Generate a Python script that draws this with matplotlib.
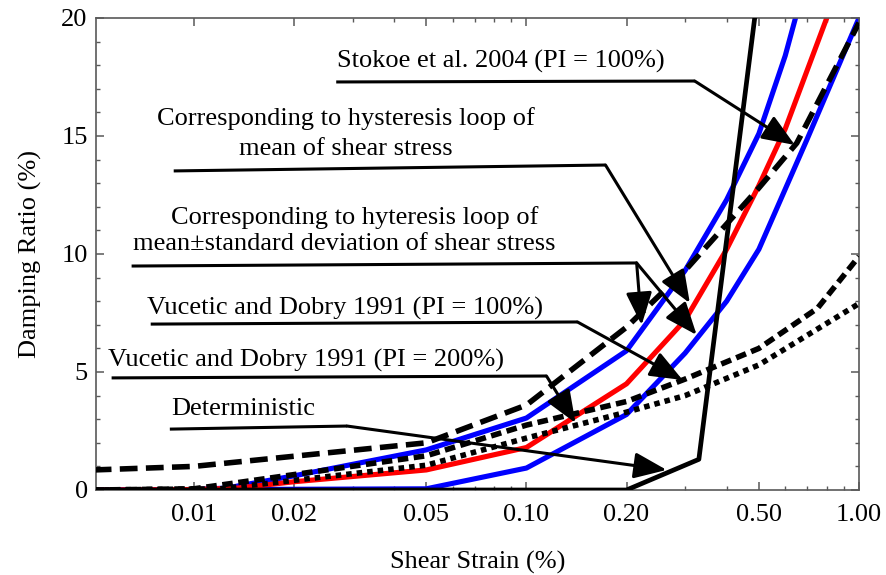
import matplotlib
matplotlib.use("Agg")
import matplotlib.pyplot as plt

plt.rcParams['font.family'] = ['Liberation Serif', 'DejaVu Serif']

# ---- data (shear strain %, damping ratio %) ----
det_x = [0.005, 0.2, 0.33, 0.5]
det_y = [0.0, 0.0, 1.3, 21.4]

mean_x = [0.005, 0.01, 0.0135, 0.02, 0.05, 0.1, 0.2, 0.3, 0.4, 0.5, 0.6, 0.8]
mean_y = [0.0, 0.02, 0.08, 0.35, 0.85, 1.8, 4.5, 7.2, 10.2, 12.9, 15.3, 20.0]

upper_x = [0.005, 0.01, 0.0125, 0.02, 0.05, 0.1, 0.2, 0.3, 0.4, 0.5, 0.6, 0.65]
upper_y = [0.0, 0.02, 0.08, 0.6, 1.7, 3.05, 5.9, 9.3, 12.3, 15.1, 18.4, 20.2]

lower_x = [0.005, 0.05, 0.1, 0.2, 0.3, 0.4, 0.5, 0.7, 1.0]
lower_y = [0.0, 0.05, 0.93, 3.2, 5.8, 8.0, 10.2, 14.9, 20.0]

stokoe_x = [0.005, 0.01, 0.05, 0.1, 0.2, 0.3, 0.5, 0.65, 1.0]
stokoe_y = [0.85, 1.0, 2.0, 3.6, 6.9, 9.3, 12.8, 14.7, 19.8]

vd100_x = [0.005, 0.01, 0.05, 0.1, 0.2, 0.3, 0.5, 0.75, 1.0]
vd100_y = [0.0, 0.05, 1.45, 2.75, 3.75, 4.7, 6.0, 7.7, 9.9]

vd200_x = [0.005, 0.012, 0.05, 0.1, 0.2, 0.3, 0.5, 1.0]
vd200_y = [0.0, 0.05, 1.05, 2.2, 3.3, 4.0, 5.3, 7.9]

x_major = [0.01, 0.02, 0.05, 0.1, 0.2, 0.5, 1.0]
x_major_labels = ["0.01", "0.02", "0.05", "0.10", "0.20", "0.50", "1.00"]
x_minor = [0.03, 0.04, 0.06, 0.07, 0.08, 0.09, 0.3, 0.4, 0.6, 0.7, 0.8, 0.9]
y_major = [0, 5, 10, 15, 20]
y_minor = list(range(0, 21))

fig = plt.figure(figsize=(8.86, 5.75), dpi=100)
ax = fig.add_axes([96/886, 85/575, 763/886, 472/575])
ax.set_xscale('log')

lw_c = 3.7
ax.plot(upper_x, upper_y, color='#0000ff', lw=lw_c, zorder=2)
ax.plot(lower_x, lower_y, color='#0000ff', lw=lw_c, zorder=2)
ax.plot(mean_x, mean_y, color='#ff0000', lw=lw_c, zorder=2.1)
ax.plot(stokoe_x, stokoe_y, color='black', lw=4.0, dashes=(3.2, 1.5), zorder=3)
ax.plot(vd100_x, vd100_y, color='black', lw=4.0, dashes=(1.9, 1.0), zorder=3)
ax.plot(vd200_x, vd200_y, color='black', lw=4.0, dashes=(1.0, 0.9), zorder=3)
ax.plot(det_x, det_y, color='black', lw=3.4, zorder=4)

ax.set_xlim(0.00508, 1.0)
ax.set_ylim(0, 20)

ax.set_xticks(x_major)
ax.set_xticklabels(x_major_labels)
ax.set_xticks(x_minor, minor=True)
ax.set_xticklabels([], minor=True)
ax.set_yticks(y_major)
ax.set_yticks(y_minor, minor=True)

for s in ax.spines.values():
    s.set_color('0.35')
    s.set_linewidth(1.2)
ax.tick_params(which='both', direction='in', top=True, right=True, color='0.35',
               labelsize=19)
ax.tick_params(which='major', length=6, width=1.1)
ax.tick_params(which='minor', length=3.2, width=1.0)
ax.tick_params(axis='x', which='major', pad=10)
ax.tick_params(axis='y', which='major', pad=6)

ax.set_xlabel('Shear Strain (%)', fontsize=19, labelpad=18)
ax.set_ylabel('Damping Ratio (%)', fontsize=19, labelpad=14)

# ---- callouts ----
fs = 19
arrowkw = dict(arrowstyle='-|>,head_length=1.0,head_width=0.4', color='black',
               lw=2.2, shrinkA=0, shrinkB=0, mutation_scale=20)

def callout(path, tips):
    xs = [p[0] for p in path]
    ys = [p[1] for p in path]
    ax.plot(xs, ys, color='black', lw=2.2, zorder=5, clip_on=False,
            solid_capstyle='butt')
    for t in tips:
        ax.annotate('', xy=t, xytext=path[-1], arrowprops=arrowkw, zorder=5)

def label(x, y, s):
    ax.text(x, y, s, ha='center', va='baseline', fontsize=fs, zorder=6)

label(0.0835, 17.92, 'Stokoe et al. 2004 (PI = 100%)')
callout([(0.0268, 17.29), (0.3206, 17.33)], [(0.641, 14.62)])

label(0.0287, 15.46, 'Corresponding to hysteresis loop of')
label(0.0287, 14.19, 'mean of shear stress')
callout([(0.0087, 13.52), (0.1729, 13.77)], [(0.31, 7.92)])

label(0.0305, 11.27, 'Corresponding to hyteresis loop of')
label(0.0283, 10.17, 'mean\u00b1standard deviation of shear stress')
callout([(0.0065, 9.49), (0.2145, 9.62)], [(0.222, 6.99), (0.325, 6.57)])

label(0.0285, 7.42, 'Vucetic and Dobry 1991 (PI = 100%)')
callout([(0.00742, 7.03), (0.1424, 7.12)], [(0.295, 4.66)])

label(0.0217, 5.21, 'Vucetic and Dobry 1991 (PI = 200%)')
callout([(0.00566, 4.75), (0.1149, 4.83)], [(0.1405, 2.84)])

label(0.01405, 3.18, 'Deterministic')
callout([(0.00847, 2.58), (0.0289, 2.71)], [(0.264, 0.85)])

fig.savefig('out.png', dpi=100)
